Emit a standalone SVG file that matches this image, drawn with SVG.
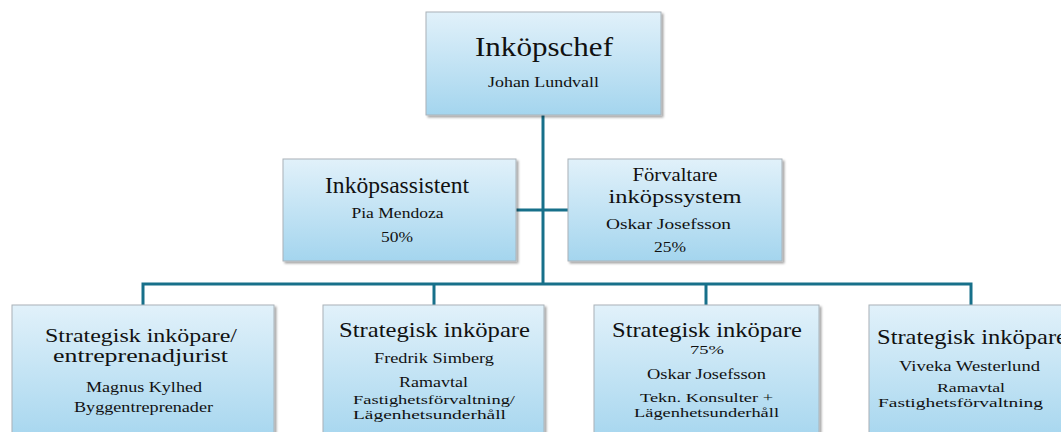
<svg xmlns="http://www.w3.org/2000/svg" width="1061" height="432" viewBox="0 0 1061 432">
<defs>
<linearGradient id="g" x1="0" y1="0" x2="0" y2="1">
<stop offset="0" stop-color="#e1f1fa"/>
<stop offset="1" stop-color="#a4d5ee"/>
</linearGradient>
<filter id="sh" x="-10%" y="-10%" width="125%" height="125%">
<feDropShadow dx="2" dy="2" stdDeviation="1.2" flood-color="#000" flood-opacity="0.35"/>
</filter>
<style>
.box{fill:url(#g);stroke:#a9b2b8;stroke-width:1;filter:url(#sh)}
.t{font-family:"Liberation Serif","Times New Roman",serif;fill:#111;text-anchor:middle}
.h1{font-size:28px}
.h2{font-size:23px}
.h2b{font-size:19.5px}
.h3{font-size:22px}
.h3b{font-size:19px}
.s{font-size:15.5px}
.sb{font-size:13.5px}
.c{fill:none;stroke:#17708a;stroke-width:3}
</style>
</defs>
<g id="connectors">
<path class="c" d="M543 115 V284"/>
<path class="c" d="M516 210 H568"/>
<path class="c" d="M143 305 V284 H971 V305"/>
<path class="c" d="M434 284 V305"/>
<path class="c" d="M706 284 V305"/>
</g>
<g id="n-inkopschef">
<rect class="box" x="426" y="12" width="235" height="103"/>
<text class="t h1" x="544" y="56" textLength="138" lengthAdjust="spacingAndGlyphs">Inköpschef</text>
<text class="t s" x="543.5" y="87" textLength="111" lengthAdjust="spacingAndGlyphs">Johan Lundvall</text>
</g>
<g id="n-inkopsassistent">
<rect class="box" x="283" y="159" width="233" height="102"/>
<text class="t h2" x="397" y="193" textLength="144" lengthAdjust="spacingAndGlyphs">Inköpsassistent</text>
<text class="t s" x="397.5" y="218" textLength="92" lengthAdjust="spacingAndGlyphs">Pia Mendoza</text>
<text class="t s" x="397" y="242" textLength="32" lengthAdjust="spacingAndGlyphs">50%</text>
</g>
<g id="n-forvaltare">
<rect class="box" x="568" y="159" width="214" height="102"/>
<text class="t h2b" x="675" y="181" textLength="85" lengthAdjust="spacingAndGlyphs">Förvaltare</text>
<text class="t h2b" x="675" y="203" textLength="133" lengthAdjust="spacingAndGlyphs">inköpssystem</text>
<text class="t s" x="668.5" y="229" textLength="125" lengthAdjust="spacingAndGlyphs">Oskar Josefsson</text>
<text class="t s" x="670" y="252" textLength="32" lengthAdjust="spacingAndGlyphs">25%</text>
</g>
<g id="n-magnus">
<rect class="box" x="12" y="305" width="262" height="140"/>
<text class="t h3b" x="141" y="342" textLength="192" lengthAdjust="spacingAndGlyphs">Strategisk inköpare/</text>
<text class="t h3b" x="140.5" y="362" textLength="175" lengthAdjust="spacingAndGlyphs">entreprenadjurist</text>
<text class="t s" x="144" y="392" textLength="116" lengthAdjust="spacingAndGlyphs">Magnus Kylhed</text>
<text class="t s" x="143.5" y="412" textLength="139" lengthAdjust="spacingAndGlyphs">Byggentreprenader</text>
</g>
<g id="n-fredrik">
<rect class="box" x="323" y="305" width="221" height="140"/>
<text class="t h3" x="434.5" y="337" textLength="191" lengthAdjust="spacingAndGlyphs">Strategisk inköpare</text>
<text class="t s" x="434" y="363" textLength="120" lengthAdjust="spacingAndGlyphs">Fredrik Simberg</text>
<text class="t s" x="433.5" y="387" textLength="69" lengthAdjust="spacingAndGlyphs">Ramavtal</text>
<text class="t sb" x="434" y="404" textLength="162" lengthAdjust="spacingAndGlyphs">Fastighetsförvaltning/</text>
<text class="t sb" x="429.5" y="419" textLength="153" lengthAdjust="spacingAndGlyphs">Lägenhetsunderhåll</text>
</g>
<g id="n-oskar">
<rect class="box" x="594" y="305" width="225" height="140"/>
<text class="t h3" x="707" y="337" textLength="190" lengthAdjust="spacingAndGlyphs">Strategisk inköpare</text>
<text class="t sb" x="707" y="354" textLength="34" lengthAdjust="spacingAndGlyphs">75%</text>
<text class="t s" x="706.5" y="379" textLength="119" lengthAdjust="spacingAndGlyphs">Oskar Josefsson</text>
<text class="t sb" x="706.5" y="402" textLength="133" lengthAdjust="spacingAndGlyphs">Tekn. Konsulter +</text>
<text class="t sb" x="706.5" y="417" textLength="145" lengthAdjust="spacingAndGlyphs">Lägenhetsunderhåll</text>
</g>
<g id="n-viveka">
<rect class="box" x="869" y="305" width="225" height="140"/>
<text class="t h3" x="972" y="344" textLength="190" lengthAdjust="spacingAndGlyphs">Strategisk inköpare</text>
<text class="t s" x="969.5" y="371" textLength="141" lengthAdjust="spacingAndGlyphs">Viveka Westerlund</text>
<text class="t sb" x="971" y="392" textLength="68" lengthAdjust="spacingAndGlyphs">Ramavtal</text>
<text class="t sb" x="960.5" y="407" textLength="165" lengthAdjust="spacingAndGlyphs">Fastighetsförvaltning</text>
</g>
</svg>
